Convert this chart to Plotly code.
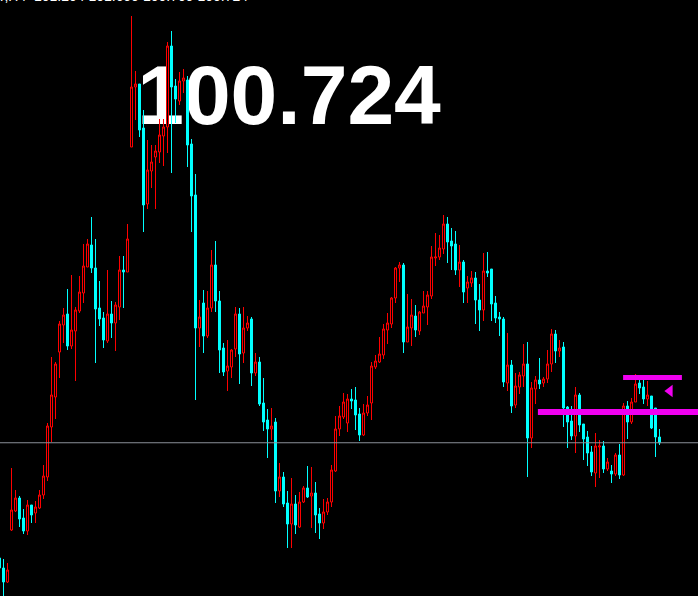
import plotly.graph_objects as go

# ---- data (bar number, OHLC) ----
bars = list(range(-1, 165))

opens = [
    89.2, 88.2, 86.8, 92.0, 93.9, 95.2, 93.2, 91.9, 94.5, 93.7,
    94.2, 95.5, 97.3, 102.3, 105.3, 109.8, 112.5, 113.6, 110.4, 111.9,
    113.9, 115.7, 118.3, 120.5, 118.2, 114.2, 113.2, 110.9, 113.6, 112.7,
    114.3, 118.0, 117.8, 130.3, 136.3, 136.6, 132.2, 124.6, 127.9, 129.3,
    129.8, 131.4, 132.3, 140.4, 136.4, 134.9, 136.9, 137.0, 130.6, 125.5,
    112.2, 114.7, 111.4, 114.2, 118.5, 114.9, 110.2, 107.9, 108.3, 110.1,
    113.6, 109.7, 112.2, 113.1, 107.7, 108.8, 104.7, 103.0, 102.1, 102.8,
    95.9, 97.3, 94.7, 92.6, 94.6, 92.3, 94.8, 96.2, 95.4, 95.7,
    93.6, 92.7, 93.8, 94.8, 97.9, 102.1, 103.3, 102.7, 105.1, 105.0,
    103.6, 101.5, 103.7, 104.7, 108.3, 108.8, 109.5, 112.0, 112.6, 115.2,
    118.2, 118.5, 110.8, 112.2, 113.4, 111.9, 113.7, 114.3, 115.4, 119.2,
    119.3, 120.1, 122.6, 120.9, 120.6, 118.0, 118.8, 116.2, 116.7, 117.2,
    115.0, 114.0, 117.9, 118.1, 114.7, 113.3, 113.1, 106.7, 108.5, 104.5,
    106.3, 107.4, 108.6, 101.2, 106.1, 107.0, 106.7, 107.1, 108.6, 111.6,
    109.9, 110.3, 104.3, 102.9, 101.4, 105.5, 102.6, 101.3, 99.8, 97.7,
    100.3, 100.4, 98.1, 97.9, 97.6, 99.5, 97.5, 104.4, 102.8, 104.8,
    106.7, 106.3, 105.1, 105.4, 104.2, 101.3,
]

highs = [
    89.4, 89.1, 88.7, 98.2, 96.0, 95.4, 94.1, 95.0, 94.5, 94.9,
    96.0, 98.5, 102.7, 109.3, 108.8, 112.9, 114.2, 116.1, 117.5, 114.3,
    117.4, 120.6, 121.1, 123.3, 121.1, 116.9, 113.8, 118.0, 114.9, 114.8,
    119.4, 119.4, 122.6, 143.4, 137.9, 136.6, 134.0, 131.0, 130.5, 130.5,
    133.1, 133.1, 140.8, 141.9, 137.1, 137.8, 138.1, 137.4, 131.1, 127.6,
    115.0, 116.0, 115.9, 120.0, 120.9, 115.9, 110.7, 111.0, 110.1, 114.3,
    114.2, 114.3, 113.4, 113.3, 109.7, 109.3, 107.2, 104.1, 104.2, 103.2,
    98.7, 97.8, 95.9, 97.2, 95.5, 95.8, 96.4, 98.4, 98.3, 96.8,
    94.2, 95.1, 95.2, 98.5, 103.4, 104.4, 105.7, 105.6, 106.1, 106.3,
    104.2, 104.6, 105.4, 108.8, 109.5, 111.3, 112.6, 113.7, 115.3, 118.3,
    118.8, 118.7, 115.6, 115.1, 114.5, 113.9, 115.9, 115.9, 120.4, 121.7,
    121.5, 123.5, 123.3, 122.2, 121.9, 120.5, 119.0, 117.4, 117.9, 117.8,
    116.6, 119.7, 119.8, 118.1, 115.4, 113.8, 113.3, 111.7, 109.0, 107.7,
    107.8, 110.6, 110.8, 106.8, 107.4, 109.2, 107.3, 110.0, 112.1, 112.0,
    111.0, 110.8, 104.4, 104.4, 106.3, 105.7, 102.6, 101.9, 100.4, 101.7,
    101.0, 100.9, 99.2, 98.5, 99.7, 100.6, 104.7, 104.9, 105.2, 107.6,
    107.1, 107.0, 106.9, 105.4, 104.2, 102.1,
]

lows = [
    88.0, 85.0, 86.7, 91.9, 93.8, 92.3, 91.6, 91.5, 92.7, 92.7,
    94.1, 95.1, 96.9, 100.8, 103.1, 107.2, 110.7, 110.0, 110.1, 106.9,
    113.7, 114.7, 118.3, 117.7, 108.7, 112.4, 110.2, 110.7, 111.2, 109.9,
    113.0, 114.2, 117.8, 130.3, 133.0, 131.3, 121.8, 124.1, 126.2, 124.1,
    128.7, 128.4, 129.7, 127.7, 132.7, 134.5, 135.7, 128.3, 121.8, 105.0,
    110.3, 109.7, 111.2, 113.8, 113.8, 107.7, 107.4, 105.9, 107.2, 109.3,
    106.6, 108.7, 111.9, 106.4, 107.4, 104.4, 101.9, 99.2, 101.0, 94.7,
    95.3, 94.3, 90.2, 90.2, 91.6, 92.2, 94.7, 95.2, 92.2, 91.7,
    91.1, 92.1, 93.5, 94.3, 97.8, 101.4, 103.1, 101.8, 104.1, 102.0,
    100.9, 101.4, 103.4, 103.0, 108.1, 108.7, 109.1, 110.6, 112.2, 114.7,
    116.8, 109.7, 110.8, 110.4, 111.3, 111.5, 113.7, 112.5, 115.1, 118.4,
    119.0, 119.6, 118.7, 118.0, 117.5, 116.3, 114.7, 114.7, 116.3, 112.6,
    111.9, 112.9, 117.3, 112.9, 112.7, 111.4, 106.3, 105.9, 103.7, 104.2,
    105.6, 106.3, 97.3, 100.2, 104.6, 106.1, 106.3, 106.7, 107.8, 108.7,
    109.3, 102.3, 100.2, 101.0, 99.7, 101.8, 99.0, 98.4, 97.4, 96.3,
    97.2, 97.7, 97.9, 96.7, 97.4, 97.1, 97.4, 101.1, 102.6, 104.8,
    105.6, 104.6, 104.4, 102.1, 99.3, 100.5,
]

closes = [
    88.2, 86.8, 88.0, 94.0, 95.2, 93.1, 91.9, 94.5, 93.5, 94.3,
    95.5, 97.4, 102.4, 105.5, 108.6, 112.6, 113.5, 110.4, 112.0, 114.0,
    115.8, 118.4, 120.6, 118.2, 114.1, 113.1, 111.0, 113.6, 112.7, 114.5,
    118.0, 117.8, 121.1, 136.3, 136.6, 132.0, 124.5, 128.0, 128.8, 129.9,
    131.5, 132.3, 140.4, 136.3, 135.1, 136.9, 137.2, 130.5, 125.4, 112.2,
    113.3, 111.4, 114.2, 118.5, 114.9, 110.0, 107.8, 108.4, 110.0, 113.6,
    109.6, 112.2, 112.7, 107.7, 108.8, 104.6, 102.8, 102.1, 102.4, 95.9,
    97.3, 94.6, 92.6, 94.6, 92.5, 94.8, 96.2, 95.3, 95.7, 93.5,
    92.7, 93.8, 94.8, 98.0, 102.1, 103.4, 104.8, 105.1, 104.9, 103.5,
    101.5, 103.7, 104.5, 108.4, 108.9, 109.6, 112.1, 112.7, 115.2, 118.2,
    118.5, 110.8, 112.3, 113.5, 112.0, 113.8, 114.4, 115.5, 119.3, 119.3,
    120.2, 122.6, 120.8, 120.4, 118.0, 118.8, 115.8, 116.8, 117.2, 115.0,
    114.0, 117.9, 117.7, 114.6, 113.2, 113.1, 106.8, 108.5, 104.4, 106.4,
    107.5, 108.6, 101.2, 106.2, 107.0, 106.6, 107.1, 108.6, 111.6, 109.9,
    110.2, 104.2, 102.8, 101.4, 105.5, 102.5, 101.1, 99.7, 97.8, 100.4,
    100.4, 98.1, 98.8, 97.6, 99.5, 97.5, 104.4, 102.8, 104.8, 106.6,
    106.2, 105.1, 105.5, 102.2, 101.3, 100.724,
]

last_price = 100.724
price_label = "100.724"
header_text = "GBPJPY,H4  101.204 101.699 100.709 100.724"

# horizontal levels drawn by the user (price, from bar, to bar)
upper_level = [107.25, 154.9, 169.6]
lower_level = [103.8, 133.6, 176.0]
arrow_point = [166.6, 105.9]

x_range = [-0.875, 173.625]
y_range = [85.4, 145.0]

BG = "#000000"
BULL = "#ff0000"
BEAR = "#00ffff"
MAG = "#f000f0"

fig = go.Figure()

fig.add_trace(go.Candlestick(
    x=bars, open=opens, high=highs, low=lows, close=closes,
    increasing=dict(line=dict(color=BULL, width=1), fillcolor=BG),
    decreasing=dict(line=dict(color=BEAR, width=1), fillcolor=BEAR),
    whiskerwidth=0, showlegend=False, hoverinfo="skip",
))

for lvl, w in ((lower_level, 6), (upper_level, 5)):
    fig.add_trace(go.Scatter(
        x=[lvl[1], lvl[2]], y=[lvl[0], lvl[0]], mode="lines",
        line=dict(color=MAG, width=w), showlegend=False, hoverinfo="skip",
    ))

fig.add_trace(go.Scatter(
    x=[arrow_point[0]], y=[arrow_point[1]], mode="markers",
    marker=dict(symbol="triangle-left", size=11, color=MAG),
    showlegend=False, hoverinfo="skip",
))

fig.add_hline(y=last_price, line=dict(color="#8a8f99", width=1))

fig.add_shape(
    type="rect", xref="paper", yref="paper",
    x0=130 / 698, x1=448 / 698, y0=1 - 122 / 596, y1=1 - 52 / 596,
    line=dict(width=0), fillcolor="rgba(0,0,0,0)", layer="below",
    label=dict(text=price_label, textposition="middle center",
               font=dict(family="Liberation Sans, Arial, sans-serif",
                         size=84, color="#ffffff", weight="bold")),
)

fig.add_annotation(
    text=header_text, xref="paper", yref="paper",
    x=250 / 698, y=1 - 6 / 596, xanchor="right", yanchor="bottom",
    showarrow=False, font=dict(family="Liberation Sans, Arial, sans-serif", size=14, color="#ffffff"),
)

fig.update_layout(
    width=698, height=596,
    margin=dict(l=0, r=0, t=0, b=0, pad=0),
    paper_bgcolor=BG, plot_bgcolor=BG,
    boxgap=0.5, boxgroupgap=0,
    showlegend=False,
    xaxis=dict(range=x_range, visible=False, showgrid=False, zeroline=False,
               rangeslider=dict(visible=False), fixedrange=True),
    yaxis=dict(range=y_range, visible=False, showgrid=False, zeroline=False, fixedrange=True),
)

fig.write_html(
    "out.html",
    config={"displayModeBar": False},
    post_script="document.body.style.margin='0px';document.body.style.background='#000';document.body.style.overflow='hidden';",
)
